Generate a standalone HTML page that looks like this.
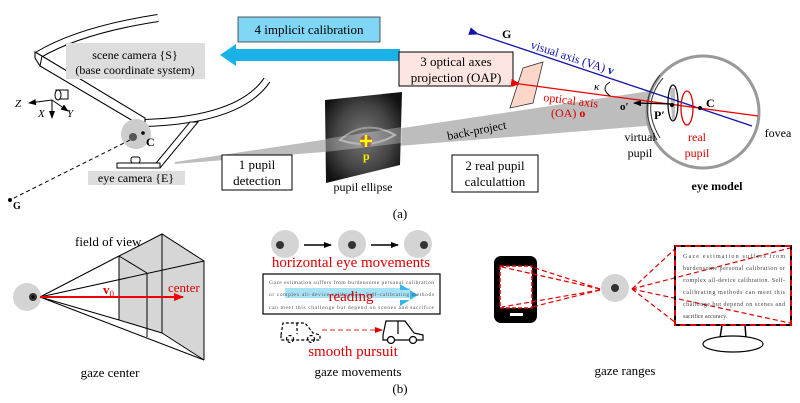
<!DOCTYPE html>
<html><head><meta charset="utf-8"><style>
html,body{margin:0;padding:0;background:#fff;}
svg{display:block;font-family:"Liberation Serif",serif;}
</style></head><body>
<svg width="800" height="403" viewBox="0 0 800 403" xmlns="http://www.w3.org/2000/svg">
<defs>
<marker id="ab" markerWidth="8" markerHeight="8" refX="7" refY="4" orient="auto" markerUnits="userSpaceOnUse"><path d="M0,1 L8,4 L0,7z" fill="#000"/></marker>
<marker id="ar" markerWidth="10" markerHeight="10" refX="9" refY="5" orient="auto" markerUnits="userSpaceOnUse"><path d="M0,1 L10,5 L0,9z" fill="#e00"/></marker>
<marker id="abl" markerWidth="10" markerHeight="10" refX="9" refY="5" orient="auto" markerUnits="userSpaceOnUse"><path d="M0,1 L10,5 L0,9z" fill="#11a"/></marker>
<marker id="ar2" markerWidth="8" markerHeight="8" refX="7" refY="4" orient="auto" markerUnits="userSpaceOnUse"><path d="M0,1 L8,4 L0,7z" fill="#d00"/></marker>
<radialGradient id="eyeimg" cx="0.5" cy="0.5" r="0.6"><stop offset="0" stop-color="#777"/><stop offset="0.6" stop-color="#444"/><stop offset="1" stop-color="#111"/></radialGradient>
</defs>

<!-- back-project beam -->
<polygon points="175,162 670,88 670,124 175,164" fill="#bdbdbd"/>

<!-- glasses -->
<path d="M158,18 Q80,30 38,55" fill="none" stroke="#000" stroke-width="8"/>
<path d="M158,18 Q80,30 38,55" fill="none" stroke="#fff" stroke-width="6"/>
<path d="M145,123 Q240,120 267,80" fill="none" stroke="#000" stroke-width="8"/>
<path d="M145,123 Q240,120 267,80" fill="none" stroke="#fff" stroke-width="6"/>
<path d="M35,52 L42,56 L145,118 L145,128 L40,66 L35,58 Z" fill="#fff" stroke="#000" stroke-width="1.1"/>
<line x1="42" y1="56" x2="40" y2="66" stroke="#000"/>
<rect x="56" y="90" width="12" height="9" fill="#fff" stroke="#000"/>
<ellipse cx="58" cy="95" rx="3" ry="5" fill="#fff" stroke="#000"/>
<path d="M190,122 L198,122 L160,168 L152,168 Z" fill="#fff" stroke="#000"/>
<rect x="117" y="163" width="43" height="5" fill="#fff" stroke="#000"/>
<rect x="131" y="157" width="9" height="6" rx="2" fill="#fff" stroke="#000"/>
<!-- axes -->
<line x1="52" y1="100" x2="29" y2="103" stroke="#000" marker-end="url(#ab)"/>
<line x1="52" y1="100" x2="52" y2="118" stroke="#000" marker-end="url(#ab)"/>
<line x1="52" y1="100" x2="68" y2="111" stroke="#000" marker-end="url(#ab)"/>
<g font-style="italic" font-size="11"><text x="15" y="107">Z</text><text x="38" y="117">X</text><text x="67" y="117">Y</text></g>

<!-- scene camera label -->
<rect x="66" y="43" width="139" height="36" fill="#ddd"/>
<text x="135" y="59" font-size="12" text-anchor="middle">scene camera {S}</text>
<text x="135" y="74" font-size="12" text-anchor="middle">(base coordinate system)</text>

<!-- implicit calibration -->
<rect x="238" y="17" width="142" height="25" fill="#7fd6f5" stroke="#333" stroke-width="0.8"/>
<text x="309" y="34" font-size="13" text-anchor="middle">4 implicit calibration</text>
<polygon points="400,49 236,49 236,44 220,55 236,66 236,61 400,61" fill="#1ab0e8"/>

<!-- eye camera -->
<circle cx="136" cy="134" r="15" fill="#ccc"/>
<circle cx="133" cy="137" r="4" fill="#555"/>
<circle cx="143" cy="133" r="1.8" fill="#000"/>
<text x="146" y="146" font-size="12" font-weight="bold">C</text>
<line x1="130" y1="140" x2="10" y2="200" stroke="#000" stroke-dasharray="4,3"/>
<circle cx="10" cy="200" r="2" fill="#000"/>
<text x="13" y="209" font-size="10" font-weight="bold">G</text>
<rect x="88" y="171" width="97" height="14" fill="#ddd"/>
<text x="136" y="182" font-size="12" text-anchor="middle">eye camera {E}</text>

<rect x="222" y="155" width="70" height="35" fill="#fff" stroke="#000"/>
<text x="257" y="169" font-size="13" text-anchor="middle">1 pupil</text>
<text x="257" y="185" font-size="13" text-anchor="middle">detection</text>

<!-- pupil image -->
<polygon points="325,100 402,92 400,165 326,183" fill="url(#eyeimg)"/>
<path d="M340,140 Q365,118 395,135 Q370,150 340,140Z" fill="none" stroke="#999" stroke-width="2"/>
<polygon points="325,139 402,127 402,143 325,152" fill="#fff" opacity="0.3"/>
<circle cx="366" cy="141" r="6" fill="#a33" opacity="0.6"/>
<path d="M360,141 h12 M366,135 v12" stroke="#ff0" stroke-width="2.5"/>
<text x="363" y="160" font-size="12" font-weight="bold" fill="#ee0">p</text>
<text x="363" y="191" font-size="12" text-anchor="middle">pupil ellipse</text>

<!-- OAP -->
<rect x="399" y="52" width="114" height="34" fill="#fde6e2" stroke="#000"/>
<text x="456" y="66" font-size="13" text-anchor="middle">3 optical axes</text>
<text x="456" y="82" font-size="13" text-anchor="middle">projection (OAP)</text>
<polygon points="510,108 523,68 543,62 533,103" fill="#fcd6c8" stroke="#333" stroke-width="0.8"/>

<rect x="452" y="155" width="86" height="37" fill="#fff" stroke="#000"/>
<text x="495" y="170" font-size="13" text-anchor="middle">2 real pupil</text>
<text x="495" y="186" font-size="13" text-anchor="middle">calculattion</text>

<!-- eye model -->
<circle cx="703" cy="112" r="56" fill="#fff" stroke="#999" stroke-width="3"/>
<path d="M663,78 Q640,105 660,138" fill="none" stroke="#333" stroke-width="1"/>
<path d="M660,75 Q636,105 657,140" fill="none" stroke="#333" stroke-width="1"/>
<polygon points="670,88 672,120 675,120 675,88" fill="#bdbdbd"/>
<line x1="478" y1="34" x2="752" y2="126" stroke="#11a" stroke-width="1.3" marker-start="url(#abl)"/>
<line x1="520" y1="84" x2="758" y2="116" stroke="#e00" stroke-width="1.3" marker-start="url(#ar)"/>
<ellipse cx="673" cy="103" rx="5" ry="18" fill="none" stroke="#000" stroke-width="1.2"/>
<ellipse cx="687" cy="108" rx="6" ry="17" fill="none" stroke="#d00" stroke-width="1.3"/>
<line x1="672" y1="104" x2="634" y2="103" stroke="#000" stroke-width="1.3" marker-end="url(#ab)"/>
<circle cx="672" cy="105" r="2" fill="#000"/>
<circle cx="700" cy="108" r="2" fill="#000"/>
<text x="706" y="107" font-size="12" font-weight="bold">C</text>
<text x="654" y="119" font-size="12" font-weight="bold">P′</text>
<text x="620" y="110" font-size="11" font-weight="bold">o′</text>
<path d="M610,82 Q600,88 610,96" fill="none" stroke="#000"/>
<text x="594" y="90" font-size="11" font-style="italic">κ</text>
<text x="502" y="38" font-size="12" font-weight="bold">G</text>
<text x="530" y="48" font-size="12" fill="#11a" transform="rotate(18 530 48)">visual axis (VA) <tspan font-weight="bold">v</tspan></text>
<text x="543" y="101" font-size="12" fill="#d00" transform="rotate(7 543 101)">optical axis</text>
<text x="551" y="117" font-size="12" fill="#d00">(OA) <tspan font-weight="bold">o</tspan></text>
<text x="448" y="140" font-size="12" transform="rotate(-11 448 140)">back-project</text>
<text x="640" y="141" font-size="12" text-anchor="middle">virtual</text>
<text x="640" y="157" font-size="12" text-anchor="middle">pupil</text>
<text x="697" y="141" font-size="12" fill="#d00" text-anchor="middle">real</text>
<text x="697" y="157" font-size="12" fill="#d00" text-anchor="middle">pupil</text>
<text x="778" y="137" font-size="12" text-anchor="middle">fovea</text>
<text x="717" y="190" font-size="12" font-weight="bold" text-anchor="middle">eye model</text>
<text x="400" y="218" font-size="13" text-anchor="middle">(a)</text>

<!-- gaze center -->
<polygon points="119,256 162,234 204,261 204,360 162,333 119,320" fill="#d6d6d6"/>
<g stroke="#000" stroke-width="1" fill="none">
<line x1="40" y1="297" x2="119" y2="256"/><line x1="40" y1="297" x2="204" y2="261"/>
<line x1="40" y1="297" x2="119" y2="320"/><line x1="40" y1="297" x2="204" y2="360"/>
<polyline points="119,256 162,234 204,261 204,360"/>
<line x1="119" y1="256" x2="147" y2="273"/>
<line x1="119" y1="256" x2="119" y2="320"/><line x1="147" y1="273" x2="147" y2="337"/>
<line x1="162" y1="234" x2="162" y2="333"/>
<line x1="119" y1="320" x2="162" y2="333"/><line x1="162" y1="333" x2="204" y2="360"/>
</g>
<circle cx="27" cy="297" r="14" fill="#d4d4d4"/>
<circle cx="33" cy="297" r="4" fill="#333"/><circle cx="33" cy="297" r="1.5" fill="#000"/>
<line x1="40" y1="297" x2="183" y2="297" stroke="#e00" stroke-width="2" marker-end="url(#ar)"/>
<text x="103" y="294" font-size="13" font-weight="bold" fill="#d00">v<tspan font-size="9" dy="3" font-weight="normal">0</tspan></text>
<text x="168" y="292" font-size="13" fill="#d00">center</text>
<text x="75" y="246" font-size="13">field of view</text>
<text x="110" y="377" font-size="13" text-anchor="middle">gaze center</text>

<!-- gaze movements -->
<g>
<circle cx="285" cy="244" r="14" fill="#d4d4d4"/><circle cx="280" cy="245" r="4" fill="#333"/>
<circle cx="352" cy="244" r="14" fill="#d4d4d4"/><circle cx="352" cy="245" r="4" fill="#333"/>
<circle cx="418" cy="244" r="14" fill="#d4d4d4"/><circle cx="424" cy="245" r="4" fill="#333"/>
<line x1="304" y1="245" x2="331" y2="245" stroke="#000" stroke-width="1.5" marker-end="url(#ab)"/>
<line x1="371" y1="245" x2="398" y2="245" stroke="#000" stroke-width="1.5" marker-end="url(#ab)"/>
</g>
<text x="351" y="267" font-size="15" fill="#d00" text-anchor="middle">horizontal eye movements</text>
<rect x="263" y="274" width="177" height="40" fill="#fff" stroke="#000" stroke-width="1.2"/>
<rect x="285" y="288" width="125" height="10" fill="#a8e2f6"/>
<polygon points="400,284 400,290 410,290 410,300 400,300 400,306 418,295" fill="#36b6ea"/>
<g font-size="5.5" fill="#555">
<text x="269" y="284" textLength="165">Gaze estimation suffers from burdensome personal calibration</text>
<text x="269" y="296" textLength="165">or complex all-device calibration. Self-calibrating methods</text>
<text x="269" y="309" textLength="165">can meet this challenge but depend on scenes and sacrifice</text>
</g>
<text x="351" y="301" font-size="15" fill="#d00" text-anchor="middle">reading</text>
<g fill="none" stroke="#000" stroke-width="1.2" stroke-dasharray="3,2">
<path d="M281,335 L283,323 L305,323 L313,333 L320,335 L320,340 L281,340 Z"/>
<circle cx="290" cy="339" r="3.5"/><circle cx="311" cy="339" r="3.5"/>
<line x1="297" y1="323" x2="297" y2="334"/>
</g>
<g fill="#fff" stroke="#000" stroke-width="1.2">
<path d="M383,335 L386,321 L405,321 L414,333 L423,335 L423,340 L383,340 Z"/>
<line x1="398" y1="321" x2="398" y2="334"/>
<circle cx="391" cy="340" r="3.5"/><circle cx="413" cy="340" r="3.5"/>
</g>
<line x1="322" y1="330" x2="382" y2="330" stroke="#e55" stroke-width="1.2" stroke-dasharray="5,3" marker-end="url(#ar2)"/>
<text x="353" y="356" font-size="15" fill="#d00" text-anchor="middle">smooth pursuit</text>
<text x="358" y="376" font-size="13" text-anchor="middle">gaze movements</text>
<text x="400" y="393" font-size="13" text-anchor="middle">(b)</text>

<!-- gaze ranges -->
<rect x="494" y="256" width="43" height="67" rx="7" fill="#000"/>
<rect x="500" y="266" width="32" height="42" fill="#fff" stroke="#d00" stroke-dasharray="4,2" stroke-width="1.5"/>
<rect x="510" y="313" width="13" height="3" fill="#fff"/>
<circle cx="615" cy="288" r="14" fill="#d4d4d4"/><circle cx="615" cy="288" r="4" fill="#333"/>
<g stroke="#d00" stroke-width="1.2" stroke-dasharray="5,3" fill="none">
<line x1="600" y1="289" x2="502" y2="267"/><line x1="600" y1="289" x2="532" y2="267"/>
<line x1="600" y1="290" x2="502" y2="307"/><line x1="600" y1="290" x2="532" y2="307"/>
<line x1="632" y1="289" x2="676" y2="248"/><line x1="632" y1="289" x2="790" y2="248"/>
<line x1="632" y1="289" x2="676" y2="323"/><line x1="632" y1="289" x2="790" y2="323"/>
</g>
<line x1="722" y1="325" x2="720" y2="338" stroke="#000" stroke-width="1.5"/>
<line x1="745" y1="325" x2="746" y2="338" stroke="#000" stroke-width="1.5"/>
<ellipse cx="733" cy="344" rx="30" ry="8" fill="#fff" stroke="#000" stroke-width="1.2"/>
<rect x="675" y="246" width="116" height="79" fill="none" stroke="#000" stroke-width="2"/>
<rect x="675" y="246" width="116" height="79" fill="none" stroke="#d00" stroke-width="2" stroke-dasharray="6,4"/>
<g font-size="6" fill="#444">
<text x="683" y="258" textLength="102">Gaze estimation suffers from</text>
<text x="683" y="270" textLength="102">burdensome personal calibration or</text>
<text x="683" y="282" textLength="102">complex all-device calibration. Self-</text>
<text x="683" y="294" textLength="102">calibrating methods can meet this</text>
<text x="683" y="306" textLength="102">challenge but depend on scenes and</text>
<text x="683" y="318">sacrifice accuracy.</text>
</g>
<text x="625" y="375" font-size="13" text-anchor="middle">gaze ranges</text>
</svg>
</body></html>
